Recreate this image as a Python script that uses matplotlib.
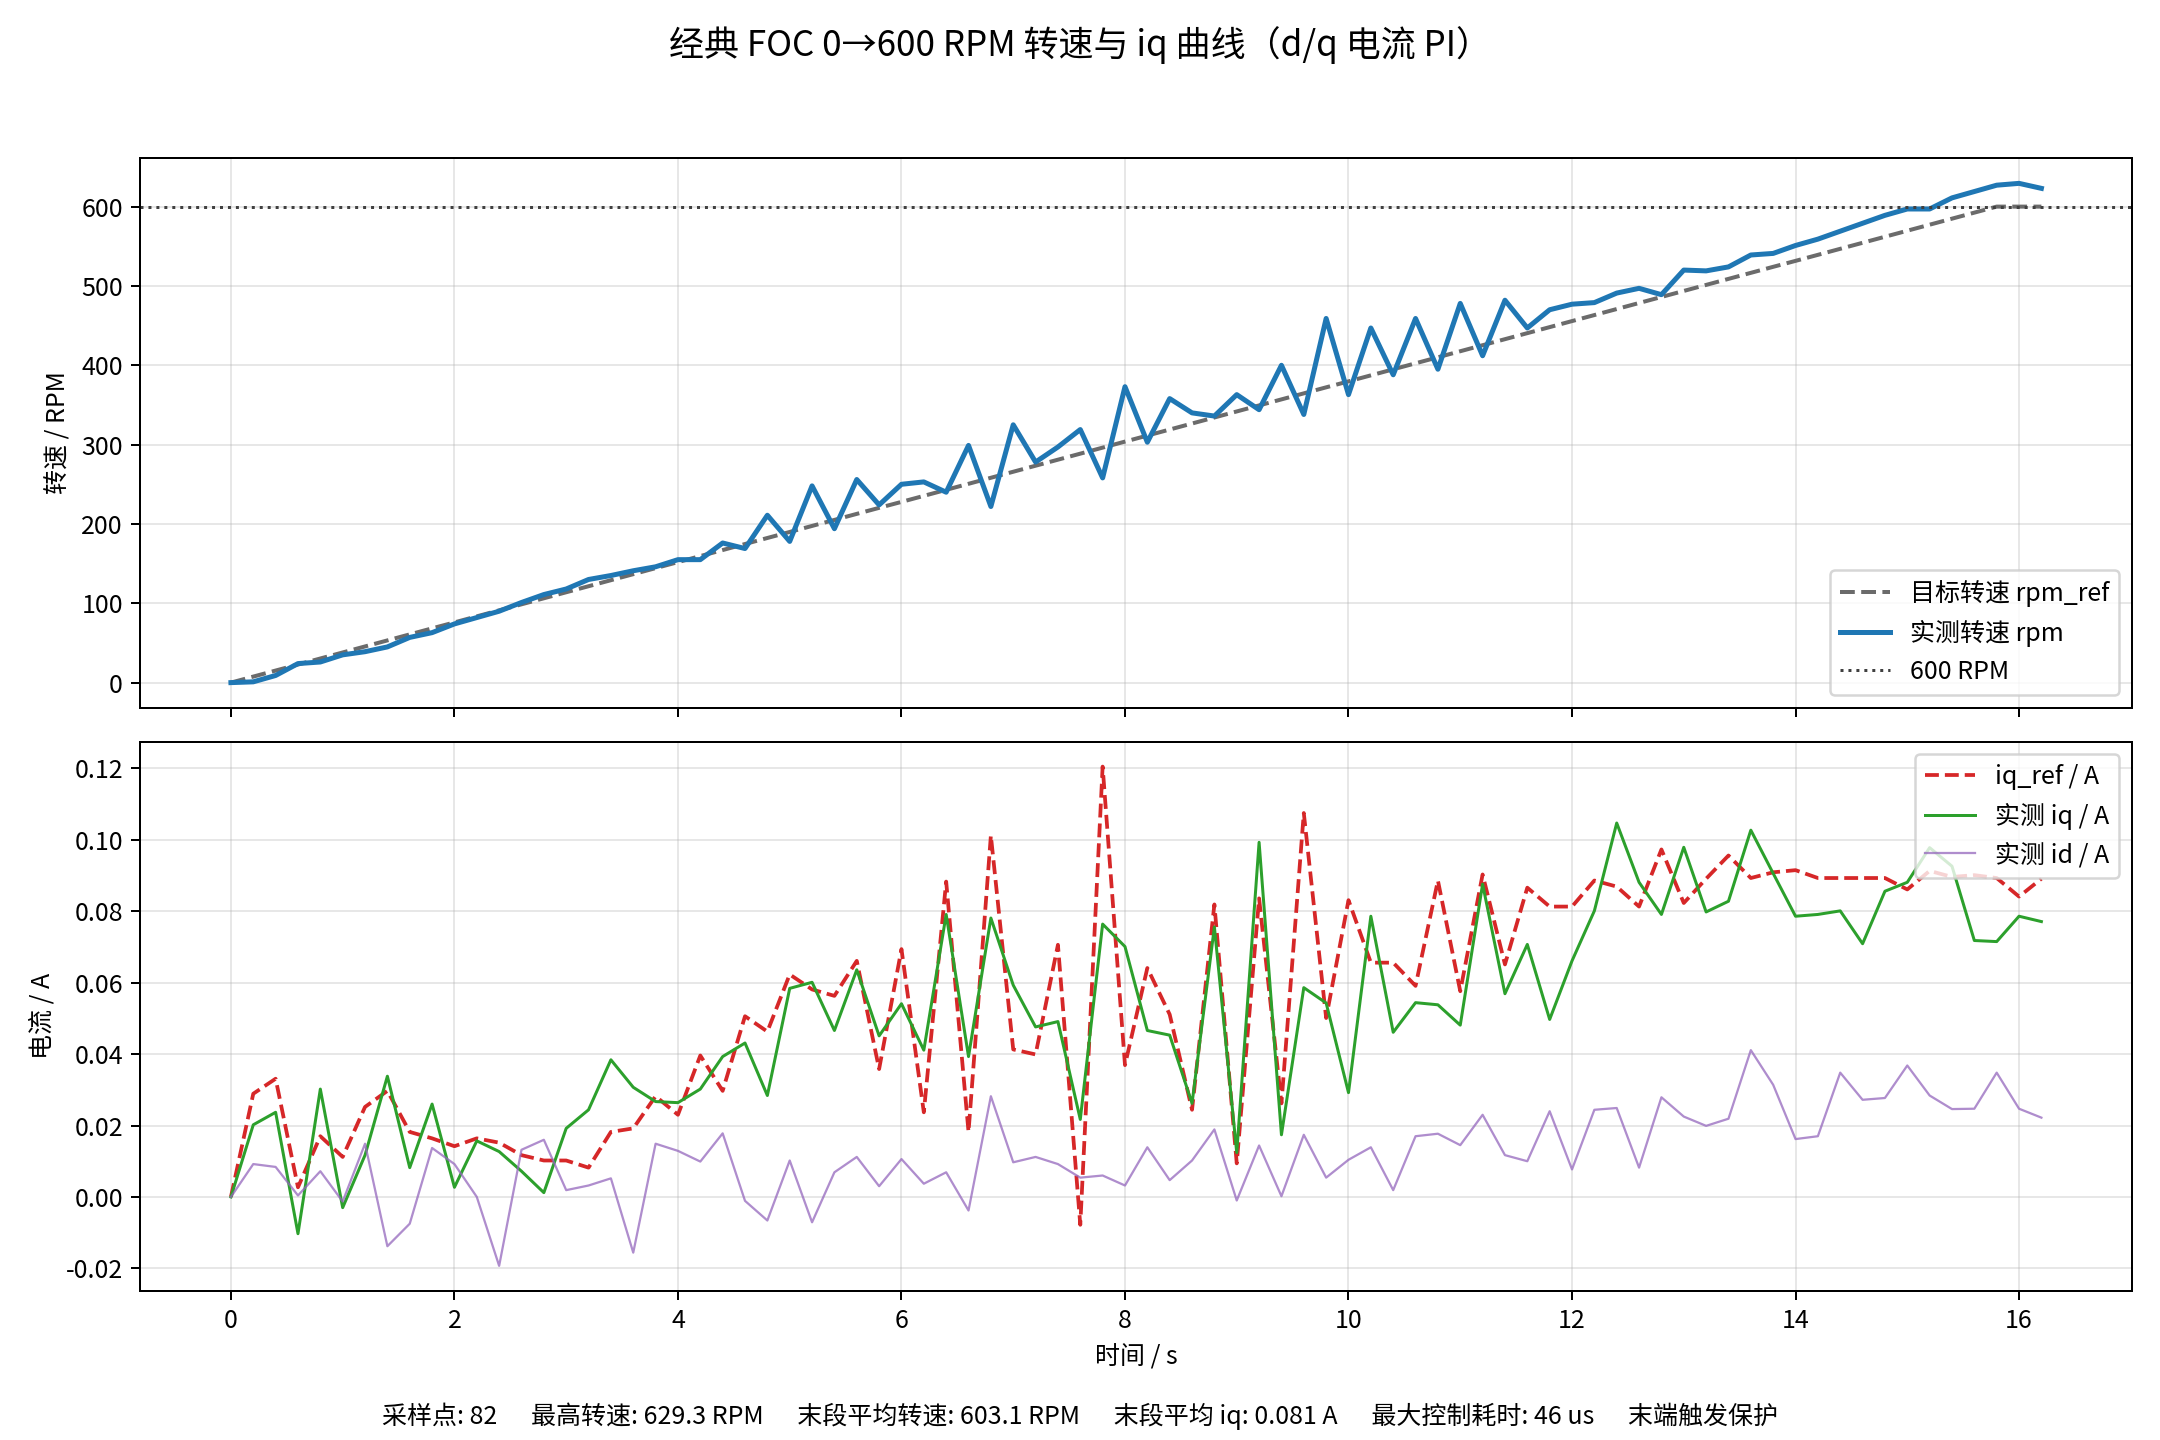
import matplotlib
matplotlib.use("Agg")
import matplotlib.pyplot as plt

plt.rcParams["font.family"] = ["Noto Sans CJK SC", "DejaVu Sans"]
plt.rcParams["axes.unicode_minus"] = False

# sample time, s (82 samples, 0.2 s apart)
t = [
    0.0, 0.2, 0.4, 0.6, 0.8, 1.0, 1.2, 1.4, 1.6, 1.8,
    2.0, 2.2, 2.4, 2.6, 2.8, 3.0, 3.2, 3.4, 3.6, 3.8,
    4.0, 4.2, 4.4, 4.6, 4.8, 5.0, 5.2, 5.4, 5.6, 5.8,
    6.0, 6.2, 6.4, 6.6, 6.8, 7.0, 7.2, 7.4, 7.6, 7.8,
    8.0, 8.2, 8.4, 8.6, 8.8, 9.0, 9.2, 9.4, 9.6, 9.8,
    10.0, 10.2, 10.4, 10.6, 10.8, 11.0, 11.2, 11.4, 11.6, 11.8,
    12.0, 12.2, 12.4, 12.6, 12.8, 13.0, 13.2, 13.4, 13.6, 13.8,
    14.0, 14.2, 14.4, 14.6, 14.8, 15.0, 15.2, 15.4, 15.6, 15.8,
    16.0, 16.2,
]

rpm_ref = [
    0.0, 7.6, 15.2, 22.8, 30.4, 38.0, 45.6, 53.2, 60.8, 68.4,
    75.9, 83.5, 91.1, 98.7, 106.3, 113.9, 121.5, 129.1, 136.7, 144.3,
    151.9, 159.5, 167.1, 174.7, 182.3, 189.9, 197.5, 205.1, 212.7, 220.3,
    227.8, 235.4, 243.0, 250.6, 258.2, 265.8, 273.4, 281.0, 288.6, 296.2,
    303.8, 311.4, 319.0, 326.6, 334.2, 341.8, 349.4, 357.0, 364.6, 372.2,
    379.7, 387.3, 394.9, 402.5, 410.1, 417.7, 425.3, 432.9, 440.5, 448.1,
    455.7, 463.3, 470.9, 478.5, 486.1, 493.7, 501.3, 508.9, 516.5, 524.1,
    531.6, 539.2, 546.8, 554.4, 562.0, 569.6, 577.2, 584.8, 592.4, 600.0,
    600.0, 600.0,
]

rpm = [
    0, 1, 9, 24, 26, 35, 39, 45, 57, 63,
    74, 82, 90, 101, 111, 118, 130, 135, 141, 146,
    155, 155, 176, 169, 211, 178, 248, 194, 256, 224,
    250, 253, 240, 299, 222, 325, 278, 297, 319, 258,
    373, 303, 358, 340, 336, 363, 344, 400, 338, 459,
    363, 447, 388, 459, 395, 478, 412, 482, 447, 470,
    477, 479, 491, 497, 489, 520, 519, 524, 539, 541,
    551, 559, 569, 579, 589, 597, 597, 611, 619, 627,
    629.3, 623,
]

iq_ref = [
    0.0, 0.0289, 0.0331, 0.0027, 0.0170, 0.0112, 0.0252, 0.0297, 0.0182, 0.0164,
    0.0142, 0.0164, 0.0152, 0.0117, 0.0102, 0.0102, 0.0082, 0.0182, 0.0192, 0.0282,
    0.0230, 0.0396, 0.0297, 0.0506, 0.0463, 0.0623, 0.0581, 0.0563, 0.0661, 0.0358,
    0.0694, 0.0237, 0.0883, 0.0182, 0.1012, 0.0413, 0.0399, 0.0706, -0.0078, 0.1205,
    0.0369, 0.0641, 0.0511, 0.0244, 0.0819, 0.0094, 0.0836, 0.0262, 0.1075, 0.0501,
    0.0831, 0.0656, 0.0656, 0.0591, 0.0886, 0.0576, 0.0903, 0.0651, 0.0866, 0.0813,
    0.0813, 0.0886, 0.0869, 0.0813, 0.0973, 0.0823, 0.0891, 0.0956, 0.0893, 0.0909,
    0.0915, 0.0893, 0.0893, 0.0893, 0.0893, 0.0861, 0.0913, 0.0896, 0.0901, 0.0893,
    0.0841, 0.0891,
]

iq = [
    0.0, 0.0202, 0.0237, -0.0103, 0.0302, -0.0030, 0.0117, 0.0338, 0.0082, 0.0260,
    0.0027, 0.0157, 0.0127, 0.0072, 0.0012, 0.0192, 0.0244, 0.0384, 0.0307, 0.0267,
    0.0264, 0.0302, 0.0393, 0.0431, 0.0284, 0.0584, 0.0601, 0.0466, 0.0636, 0.0451,
    0.0541, 0.0411, 0.0791, 0.0393, 0.0781, 0.0593, 0.0476, 0.0491, 0.0217, 0.0764,
    0.0701, 0.0466, 0.0453, 0.0262, 0.0756, 0.0124, 0.0993, 0.0174, 0.0586, 0.0543,
    0.0292, 0.0786, 0.0461, 0.0544, 0.0538, 0.0481, 0.0876, 0.0569, 0.0707, 0.0497,
    0.0661, 0.0801, 0.1047, 0.0881, 0.0791, 0.0979, 0.0798, 0.0828, 0.1027, 0.0906,
    0.0786, 0.0791, 0.0801, 0.0709, 0.0856, 0.0881, 0.0978, 0.0926, 0.0718, 0.0715,
    0.0786, 0.0771,
]

id_meas = [
    0.0, 0.0092, 0.0084, 0.0004, 0.0072, -0.0013, 0.0149, -0.0138, -0.0075, 0.0137,
    0.0092, 0.0000, -0.0193, 0.0132, 0.0160, 0.0019, 0.0032, 0.0052, -0.0156, 0.0149,
    0.0129, 0.0099, 0.0178, -0.0011, -0.0066, 0.0102, -0.0071, 0.0069, 0.0112, 0.0030,
    0.0106, 0.0037, 0.0069, -0.0038, 0.0282, 0.0097, 0.0112, 0.0092, 0.0054, 0.0060,
    0.0032, 0.0139, 0.0047, 0.0102, 0.0189, -0.0010, 0.0144, 0.0002, 0.0174, 0.0054,
    0.0104, 0.0139, 0.0019, 0.0170, 0.0177, 0.0145, 0.0230, 0.0117, 0.0100, 0.0240,
    0.0077, 0.0244, 0.0249, 0.0082, 0.0279, 0.0225, 0.0199, 0.0219, 0.0411, 0.0314,
    0.0162, 0.0170, 0.0348, 0.0272, 0.0277, 0.0368, 0.0284, 0.0246, 0.0247, 0.0348,
    0.0247, 0.0222,
]

TARGET_RPM = 600

title = "经典 FOC 0→600 RPM 转速与 iq 曲线（d/q 电流 PI）"
sep = "      "
footer = sep.join([
    "采样点: 82",
    "最高转速: 629.3 RPM",
    "末段平均转速: 603.1 RPM",
    "末段平均 iq: 0.081 A",
    "最大控制耗时: 46 us",
    "末端触发保护",
])

fig, (ax1, ax2) = plt.subplots(2, 1, figsize=(12, 8), dpi=180, sharex=True)
fig.subplots_adjust(left=0.065, right=0.987, top=0.890, bottom=0.1036, hspace=0.062)

ax1.plot(t, rpm_ref, "--", color="0.42", linewidth=1.6, label="目标转速 rpm_ref")
ax1.plot(t, rpm, color="#1f77b4", linewidth=2.0, label="实测转速 rpm")
ax1.axhline(TARGET_RPM, color="0.25", linestyle=":", linewidth=1.2, label="600 RPM")
ax1.set_ylabel("转速 / RPM", fontsize=10)
ax1.grid(True, alpha=0.3)
ax1.legend(loc="lower right", fontsize=10)

ax2.plot(t, iq_ref, "--", color="#d62728", linewidth=1.5, label="iq_ref / A")
ax2.plot(t, iq, color="#2ca02c", linewidth=1.2, label="实测 iq / A")
ax2.plot(t, id_meas, color="#9467bd", linewidth=0.9, alpha=0.75, label="实测 id / A")
ax2.set_ylabel("电流 / A", fontsize=10)
ax2.set_xlabel("时间 / s", fontsize=10)
ax2.grid(True, alpha=0.3)
ax2.legend(loc="upper right", fontsize=10)

for ax in (ax1, ax2):
    ax.tick_params(labelsize=10)

fig.suptitle(title, fontsize=14, y=0.982)
fig.text(0.5, 0.011, footer, ha="center", fontsize=10)

fig.savefig("out.png", dpi=180)
